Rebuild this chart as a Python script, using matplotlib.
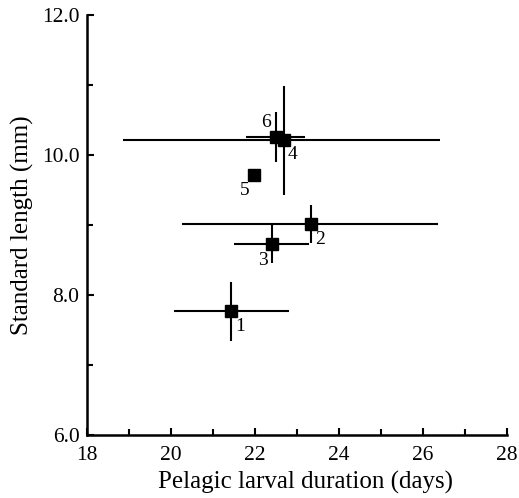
import matplotlib
matplotlib.use("Agg")
import matplotlib.pyplot as plt
from matplotlib.ticker import MultipleLocator, FormatStrFormatter

labels = ["1", "2", "3", "4", "5", "6"]
pld = [21.44, 23.34, 22.41, 22.69, 21.99, 22.50]
pld_lo = [20.07, 20.27, 21.51, 18.87, 21.99, 21.79]
pld_hi = [22.82, 26.37, 23.30, 26.42, 21.99, 23.20]
sl = [7.77, 9.01, 8.73, 10.21, 9.71, 10.26]
sl_lo = [7.34, 8.74, 8.45, 9.43, 9.71, 9.90]
sl_hi = [8.19, 9.28, 9.01, 10.99, 9.71, 10.61]
label_dx = [0.22, 0.22, -0.22, 0.22, -0.22, -0.22]
label_dy = [-0.22, -0.22, -0.24, -0.2, -0.22, 0.2]

plt.rcParams['font.family'] = ['Liberation Serif', 'DejaVu Serif']

fig = plt.figure(figsize=(5.19, 4.98), dpi=100)
ax = fig.add_axes([0.1667, 0.1265, 0.81, 0.8435])

for i in range(len(labels)):
    xerr = [[pld[i] - pld_lo[i]], [pld_hi[i] - pld[i]]]
    yerr = [[sl[i] - sl_lo[i]], [sl_hi[i] - sl[i]]]
    ax.errorbar([pld[i]], [sl[i]], xerr=xerr, yerr=yerr, fmt='s', color='black',
                ms=8, elinewidth=1.5, capsize=0, zorder=3)
    ax.text(pld[i] + label_dx[i], sl[i] + label_dy[i], labels[i], fontsize=14,
            ha='center', va='center')

ax.set_xlim(18, 28)
ax.set_ylim(6, 12)
ax.xaxis.set_major_locator(MultipleLocator(2))
ax.xaxis.set_minor_locator(MultipleLocator(1))
ax.yaxis.set_major_locator(MultipleLocator(2))
ax.yaxis.set_minor_locator(MultipleLocator(1))
ax.yaxis.set_major_formatter(FormatStrFormatter('%.1f'))
ax.tick_params(which='both', direction='in', width=1.5, labelsize=15.5)
ax.tick_params(which='major', length=5)
ax.tick_params(which='minor', length=4)
ax.tick_params(axis='x', which='major', pad=8)
ax.tick_params(axis='y', which='major', pad=5)
for s in ['top', 'right']:
    ax.spines[s].set_visible(False)
for s in ['left', 'bottom']:
    ax.spines[s].set_linewidth(1.8)
ax.set_xlabel("Pelagic larval duration (days)", fontsize=18, labelpad=6)
ax.xaxis.set_label_coords(0.522, -0.085, transform=ax.transAxes)
ax.xaxis.label.set_va('top')
ax.set_ylabel("Standard length (mm)", fontsize=18, labelpad=6)

fig.savefig("out.png", dpi=100)
